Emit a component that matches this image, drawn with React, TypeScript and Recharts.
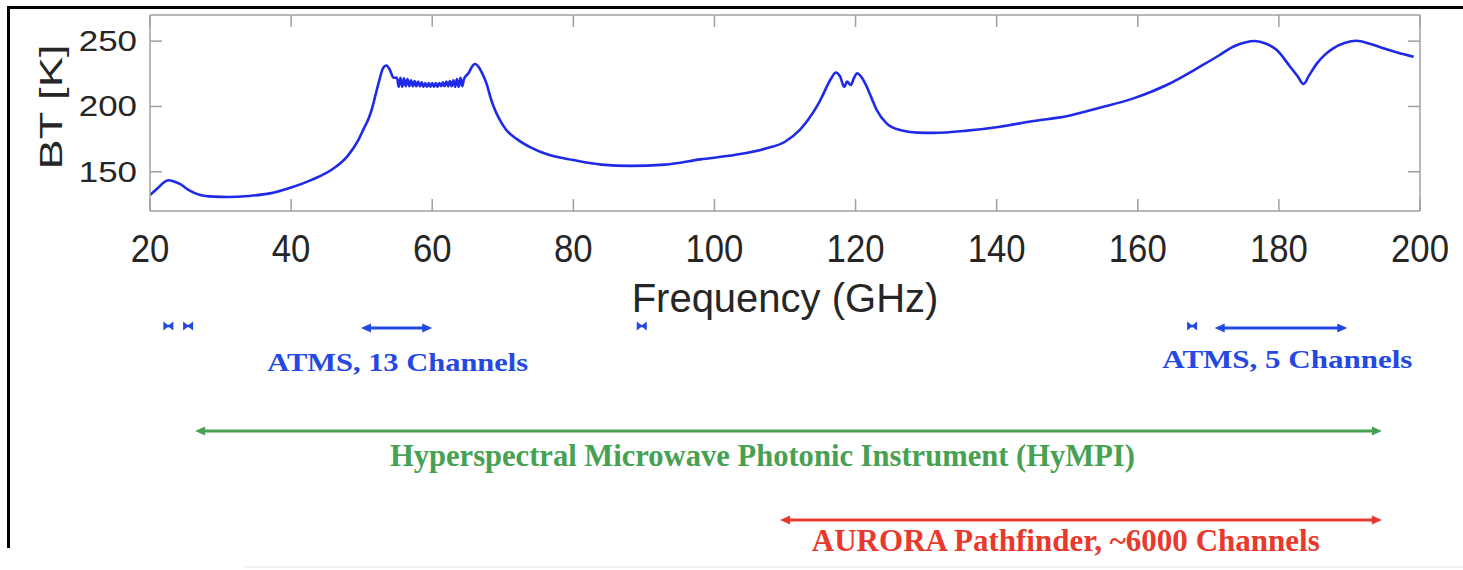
import React from 'react';
import {
  LineChart,
  Line,
  XAxis,
  YAxis,
  ComposedChart,
  ReferenceLine,
  ReferenceDot,
} from 'recharts';

// ---------------- DATA ----------------
// Brightness temperature spectrum, [frequency GHz, BT K]
const window23: [number, number][] = [
  [20, 132.2], [21, 137], [22, 142], [22.6, 143.5], [23.3, 142.8], [24.3, 140.5],
  [25.5, 136], [27, 132.5], [29, 131], [31, 130.7], [34, 131.5], [37, 133.5],
  [40, 138], [43, 144], [46, 152.5], [48, 162], [49.5, 174], [50.3, 183],
  [51, 191], [51.5, 199], [51.9, 207.5], [52.5, 220], [53, 229], [53.5, 231.3], [54, 228],
  [54.5, 222],
];

const oxygen60: [number, number][] = [
  [55, 222], [55.25, 215], [55.5, 222], [55.75, 215], [56, 221.5], [56.25, 215.5],
  [56.5, 221], [56.75, 215.5], [57, 220], [57.25, 215.5], [57.5, 219.5], [57.75, 215.5],
  [58, 219], [58.25, 215.5], [58.5, 218.5], [58.75, 215], [59, 218], [59.25, 215],
  [59.5, 218], [59.75, 215], [60, 218], [60.25, 215], [60.5, 218], [60.75, 215],
  [61, 218], [61.25, 215.5], [61.5, 218.5], [61.75, 215.5], [62, 219], [62.25, 215.5],
  [62.5, 219.5], [62.75, 215.5], [63, 220], [63.25, 215], [63.5, 221], [63.75, 215],
  [64, 222], [64.25, 215.5], [64.5, 221],
];

const window90: [number, number][] = [
  [65.2, 226], [65.7, 231], [66.1, 232.5], [66.6, 230], [67.2, 224], [67.7, 217.5],
  [68.2, 208], [68.7, 200], [69.6, 189.5], [70.5, 182], [72, 175], [74, 168.5],
  [76.5, 163], [80, 159], [84, 155.5], [88, 154.5], [93, 155.5], [98, 159.5],
  [103, 163], [107.4, 168], [110, 173],
];

const oxygen118: [number, number][] = [
  [112.1, 182], [113.3, 190], [114.5, 199.8], [115.3, 208], [115.9, 215], [116.6, 222],
  [117.2, 226], [117.8, 223], [118.4, 215], [118.8, 219], [119.3, 216.4], [119.8, 222],
  [120.2, 225.4], [120.9, 222], [121.6, 215], [122.3, 206], [123, 197.3], [124.4, 187.1],
  [126.3, 182], [128.7, 180], [131, 179.8], [135.8, 181.5], [140.5, 184.5], [145.2, 188.9],
  [149.9, 192.5], [154.6, 199], [159.4, 206.2],
];

const water183: [number, number][] = [
  [164.1, 216.4], [168.8, 230.4], [171.5, 239], [173.5, 245.7], [175.2, 249], [176.6, 250.1],
  [178.2, 248], [179.7, 243.2], [181.6, 230.4], [182.6, 223.5], [183.5, 217.2], [184.3, 224],
  [185.4, 233], [186.5, 239.5], [187.7, 244.5], [189.3, 248.5], [191, 250.3], [192.9, 248],
  [194.8, 244.5], [197, 241], [199.1, 238.1],
];

const xTicks = [20, 40, 60, 80, 100, 120, 140, 160, 180, 200];
const yTicks = [150, 200, 250];

// Instrument coverage annotations
const atmsSingleChannelsGHz = [22.6, 25.4, 89.7, 167.7];
const bandNames = [
  'ATMS, 13 Channels',
  'ATMS, 5 Channels',
  'Hyperspectral Microwave Photonic Instrument (HyMPI)',
  'AURORA Pathfinder, ~6000 Channels',
];
const bandStartGHz = [49.9, 170.9, 26.4, 109.3];
const bandEndGHz = [60.0, 189.7, 194.6, 194.6];
const bandLabelCenterGHz = [55.1, 181.2, 106.8, 149.8];
const bandLane = [0, 0, 1, 2];

// ---------------- LAYOUT / STYLE ----------------
const laneValue = [0, 1.073, 2];
const bandColor = ['#2448e2', '#2448e2', '#46a152', '#e8392c'];
const labelDy = [43, 40, 35, 31];
const labelWidth = [261, 250, 745, 508];
const labelSize = [26, 26, 31, 31];
const BOX = '#a0a0a0';
const TEXT = '#262626';
const SANS = "'Liberation Sans', Arial, Helvetica, sans-serif";
const SERIF = "'Liberation Serif', 'Times New Roman', serif";

const spectrum = [...window23, ...oxygen60, ...window90, ...oxygen118, ...water183].map(
  ([f, bt]) => ({ f, bt })
);

const EmptyTick = () => <g />;

const XTick = (props: any) => {
  const { x, y, payload } = props;
  const s = String(payload.value);
  return (
    <text
      x={x}
      y={y + 51}
      textAnchor="middle"
      fontFamily={SANS}
      fontSize={38}
      fill={TEXT}
      textLength={s.length * 19.3}
      lengthAdjust="spacingAndGlyphs"
    >
      {s}
    </text>
  );
};

const YTick = (props: any) => {
  const { x, y, payload } = props;
  const s = String(payload.value);
  return (
    <text
      x={x}
      y={y + 10}
      textAnchor="end"
      fontFamily={SANS}
      fontSize={29}
      fill={TEXT}
      textLength={s.length * 19.4}
      lengthAdjust="spacingAndGlyphs"
    >
      {s}
    </text>
  );
};

const XLabel = (props: any) => {
  const vb = props.viewBox ?? { x: 150, y: 211, width: 1270, height: 30 };
  return (
    <text
      x={vb.x + vb.width / 2}
      y={vb.y + 101}
      textAnchor="middle"
      fontFamily={SANS}
      fontSize={40}
      fill={TEXT}
    >
      Frequency (GHz)
    </text>
  );
};

const YLabel = (props: any) => {
  const vb = props.viewBox ?? { x: 90, y: 15, width: 60, height: 196 };
  const cx = vb.x - 39;
  const cy = vb.y + vb.height / 2 - 6;
  return (
    <text
      x={cx}
      y={cy}
      transform={`rotate(-90 ${cx} ${cy})`}
      textAnchor="middle"
      dominantBaseline="central"
      fontFamily={SANS}
      fontSize={31}
      fill={TEXT}
      textLength={125}
      lengthAdjust="spacingAndGlyphs"
    >
      BT [K]
    </text>
  );
};

const arrowShape = (color: string) => (p: any) => {
  const { x1, x2, y1 } = p;
  const y = y1;
  const L = 10;
  const W = 4.5;
  return (
    <g>
      <line x1={x1 + L - 2} y1={y} x2={x2 - L + 2} y2={y} stroke={color} strokeWidth={3} />
      <path d={`M${x1},${y} L${x1 + L},${y - W} L${x1 + L},${y + W} Z`} fill={color} />
      <path d={`M${x2},${y} L${x2 - L},${y - W} L${x2 - L},${y + W} Z`} fill={color} />
    </g>
  );
};

const bowtieShape = (color: string) => (p: any) => {
  const cx = (p.x1 + p.x2) / 2;
  const y = p.y1 - 2;
  return (
    <path
      d={`M${cx - 5},${y - 4.5} L${cx - 0.8},${y - 1.2} L${cx + 0.8},${y - 1.2} L${cx + 5},${y - 4.5} L${cx + 5},${y + 4.5} L${cx + 0.8},${y + 1.2} L${cx - 0.8},${y + 1.2} L${cx - 5},${y + 4.5} Z`}
      fill={color}
    />
  );
};

const labelShape = (i: number) => (p: any) => (
  <text
    x={p.cx}
    y={p.cy + labelDy[i]}
    textAnchor="middle"
    fontFamily={SERIF}
    fontWeight="bold"
    fontSize={labelSize[i]}
    fill={bandColor[i]}
    textLength={labelWidth[i]}
    lengthAdjust="spacingAndGlyphs"
  >
    {bandNames[i]}
  </text>
);

export default function App() {
  return (
    <div
      style={{
        position: 'absolute',
        left: 0,
        top: 0,
        width: 1463,
        height: 570,
        background: '#fff',
        overflow: 'hidden',
      }}
    >
      <div style={{ position: 'absolute', left: 7, top: 6, width: 1456, height: 2.5, background: '#000' }} />
      <div style={{ position: 'absolute', left: 7, top: 6, width: 2.5, height: 542, background: '#000' }} />
      <div style={{ position: 'absolute', left: 245, top: 566, width: 1218, height: 2, background: '#f2f2f2' }} />

      <div style={{ position: 'absolute', left: 0, top: 0 }}>
        <LineChart width={1463} height={340} data={spectrum} margin={{ top: 15, right: 43, bottom: 99, left: 90 }}>
          {/* tick-label axes */}
          <XAxis
            dataKey="f"
            type="number"
            domain={[20, 200]}
            ticks={xTicks}
            interval={0}
            allowDataOverflow
            height={30}
            axisLine={false}
            tickLine={false}
            tickSize={0}
            tickMargin={0}
            tick={XTick}
            label={{ content: XLabel } as any}
          />
          <YAxis
            dataKey="bt"
            type="number"
            domain={[120, 270]}
            ticks={yTicks}
            interval={0}
            allowDataOverflow
            width={60}
            axisLine={false}
            tickLine={false}
            tickSize={0}
            tickMargin={13}
            tick={YTick}
            label={{ content: YLabel } as any}
          />
          {/* box with inward ticks */}
          <XAxis
            xAxisId="boxBottom"
            dataKey="f"
            orientation="bottom"
            mirror
            type="number"
            domain={[20, 200]}
            ticks={xTicks}
            interval={0}
            allowDataOverflow
            height={30}
            stroke={BOX}
            strokeWidth={1.5}
            tickSize={12}
            tick={EmptyTick}
          />
          <XAxis
            xAxisId="boxTop"
            dataKey="f"
            orientation="top"
            mirror
            type="number"
            domain={[20, 200]}
            ticks={xTicks}
            interval={0}
            allowDataOverflow
            height={30}
            stroke={BOX}
            strokeWidth={1.5}
            tickSize={12}
            tick={EmptyTick}
          />
          <YAxis
            yAxisId="boxLeft"
            dataKey="bt"
            orientation="left"
            mirror
            type="number"
            domain={[120, 270]}
            ticks={yTicks}
            interval={0}
            allowDataOverflow
            width={30}
            stroke={BOX}
            strokeWidth={1.5}
            tickSize={12}
            tick={EmptyTick}
          />
          <YAxis
            yAxisId="boxRight"
            dataKey="bt"
            orientation="right"
            mirror
            type="number"
            domain={[120, 270]}
            ticks={yTicks}
            interval={0}
            allowDataOverflow
            width={30}
            stroke={BOX}
            strokeWidth={1.5}
            tickSize={12}
            tick={EmptyTick}
          />
          <Line
            dataKey="bt"
            type="monotone"
            stroke="#1f2ae6"
            strokeWidth={2.6}
            dot={false}
            isAnimationActive={false}
          />
        </LineChart>
      </div>

      <div style={{ position: 'absolute', left: 0, top: 0 }}>
        <ComposedChart
          width={1463}
          height={570}
          data={bandNames.map((n, i) => ({ f: bandLabelCenterGHz[i], lane: laneValue[bandLane[i]] }))}
          margin={{ top: 328, right: 43, bottom: 50, left: 150 }}
        >
          <XAxis dataKey="f" type="number" domain={[20, 200]} hide allowDataOverflow />
          <YAxis dataKey="lane" type="number" domain={[0, 2]} reversed hide allowDataOverflow />
          {atmsSingleChannelsGHz.map((f, i) => (
            <ReferenceLine
              key={`ch${i}`}
              segment={[
                { x: f, y: laneValue[0] },
                { x: f, y: laneValue[0] },
              ]}
              ifOverflow="visible"
              shape={bowtieShape(bandColor[0])}
            />
          ))}
          {bandNames.map((n, i) => (
            <ReferenceLine
              key={`band${i}`}
              segment={[
                { x: bandStartGHz[i], y: laneValue[bandLane[i]] },
                { x: bandEndGHz[i], y: laneValue[bandLane[i]] },
              ]}
              ifOverflow="visible"
              shape={arrowShape(bandColor[i])}
            />
          ))}
          {bandNames.map((n, i) => (
            <ReferenceDot
              key={`lbl${i}`}
              x={bandLabelCenterGHz[i]}
              y={laneValue[bandLane[i]]}
              r={0}
              ifOverflow="visible"
              shape={labelShape(i)}
            />
          ))}
        </ComposedChart>
      </div>
    </div>
  );
}
